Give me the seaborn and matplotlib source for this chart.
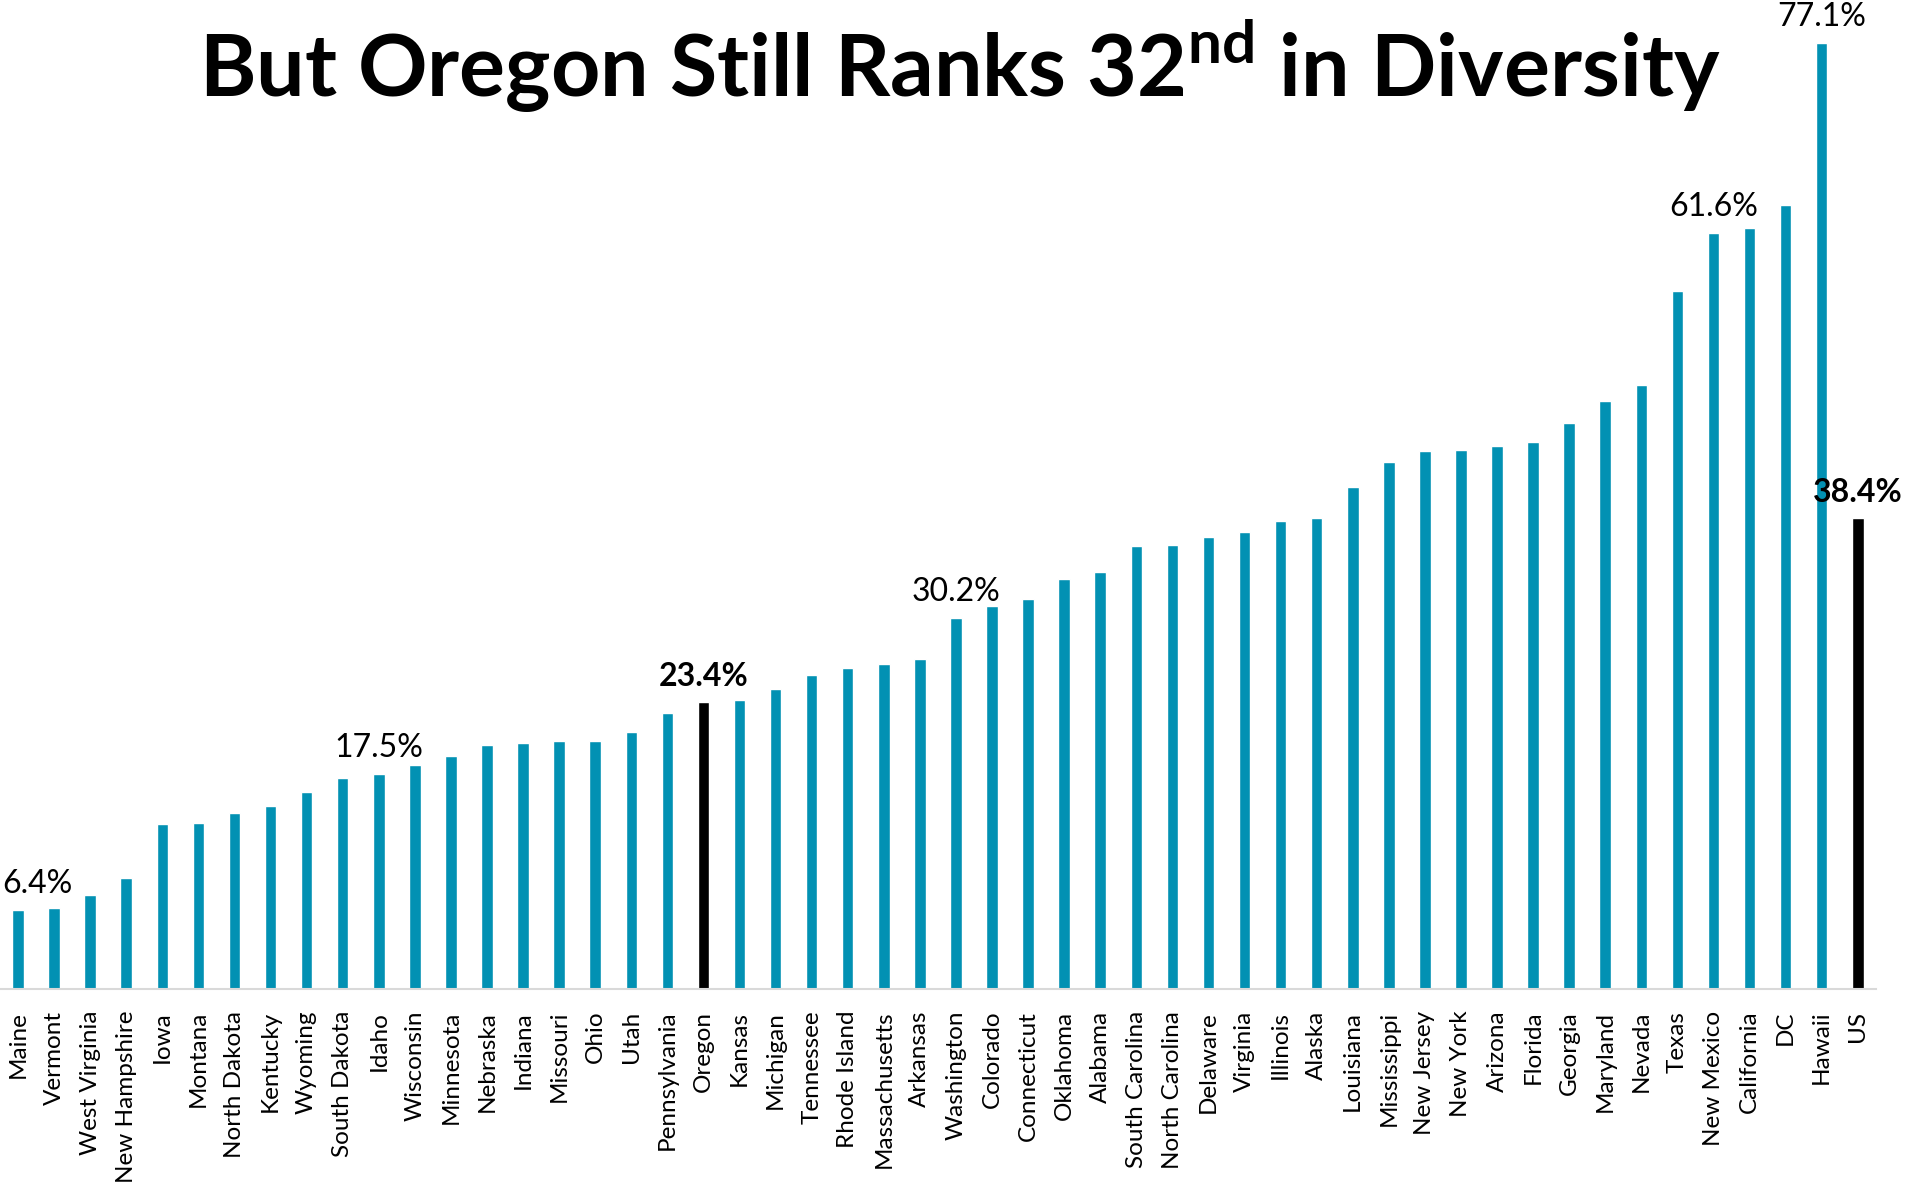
import matplotlib
matplotlib.use("Agg")
import matplotlib.pyplot as plt
import seaborn as sns
import pandas as pd

# share of population that is non-white, by state
states = ['Maine', 'Vermont', 'West Virginia', 'New Hampshire', 'Iowa', 'Montana',
          'North Dakota', 'Kentucky', 'Wyoming', 'South Dakota', 'Idaho', 'Wisconsin',
          'Minnesota', 'Nebraska', 'Indiana', 'Missouri', 'Ohio', 'Utah', 'Pennsylvania',
          'Oregon', 'Kansas', 'Michigan', 'Tennessee', 'Rhode Island', 'Massachusetts',
          'Arkansas', 'Washington', 'Colorado', 'Connecticut', 'Oklahoma', 'Alabama',
          'South Carolina', 'North Carolina', 'Delaware', 'Virginia', 'Illinois', 'Alaska',
          'Louisiana', 'Mississippi', 'New Jersey', 'New York', 'Arizona', 'Florida',
          'Georgia', 'Maryland', 'Nevada', 'Texas', 'New Mexico', 'California', 'DC',
          'Hawaii', 'US']
pct = [6.4, 6.6, 7.6, 9.0, 13.4, 13.5, 14.3, 14.9, 16.0, 17.2, 17.5, 18.2,
       19.0, 19.9, 20.0, 20.2, 20.2, 20.9, 22.5, 23.4, 23.5, 24.4, 25.6, 26.1,
       26.5, 26.9, 30.2, 31.2, 31.8, 33.4, 34.0, 36.1, 36.2, 36.8, 37.2, 38.1,
       38.4, 40.9, 42.9, 43.8, 43.9, 44.2, 44.6, 46.1, 47.9, 49.2, 56.9, 61.6,
       62.0, 63.9, 77.1, 38.4]
highlight = ['Oregon', 'US']
labelled = ['Maine', 'Idaho', 'Oregon', 'Washington', 'New Mexico', 'Hawaii', 'US']

TEAL = '#0291B3'
df = pd.DataFrame({'state': states, 'pct': pct})
colors = {s: ('black' if s in highlight else TEAL) for s in states}

sns.set_style('white')
plt.rcParams['font.family'] = ['Lato', 'DejaVu Sans']
plt.rcParams['text.color'] = 'black'
plt.rcParams['xtick.color'] = 'black'
plt.rcParams['mathtext.fontset'] = 'custom'
plt.rcParams['mathtext.bf'] = 'Lato:bold'
plt.rcParams['mathtext.rm'] = 'Lato:bold'

fig = plt.figure(figsize=(19.09, 11.95), dpi=100)
ax = fig.add_axes([0.0, 0.1727, 0.9826, 0.8273])

sns.barplot(data=df, x='state', y='pct', hue='state', palette=colors,
            width=0.32, legend=False, ax=ax, saturation=1)

ax.set_xlim(-0.5, len(states) - 0.5)
ax.set_ylim(0, 80.6)
ax.set_xlabel('')
ax.set_ylabel('')
ax.set_yticks([])
ax.tick_params(axis='x', length=0, pad=16, labelsize=17.5, labelrotation=90,
               labelcolor='black')
for side in ['top', 'left', 'right']:
    ax.spines[side].set_visible(False)
ax.spines['bottom'].set_color('#D9D9D9')
ax.spines['bottom'].set_linewidth(1.5)
ax.patch.set_alpha(0)

# value labels on selected bars
for i, (s, v) in enumerate(zip(states, pct)):
    if s not in labelled:
        continue
    bold = s in highlight
    x, ha = i, 'center'
    if i == 0:
        x, ha = -0.45, 'left'
    ax.text(x, v + 0.9, f'{v:.1f}%', ha=ha, va='bottom', fontsize=23,
            fontweight='bold' if bold else 'normal', color='black', clip_on=False)

fig.text(0.503, 0.919, r'But Oregon Still Ranks 32$^{\mathbf{nd}}$ in Diversity',
         ha='center', va='baseline', fontsize=62, fontweight='bold', color='black')

fig.savefig('out.png', dpi=100)
plt.close(fig)
